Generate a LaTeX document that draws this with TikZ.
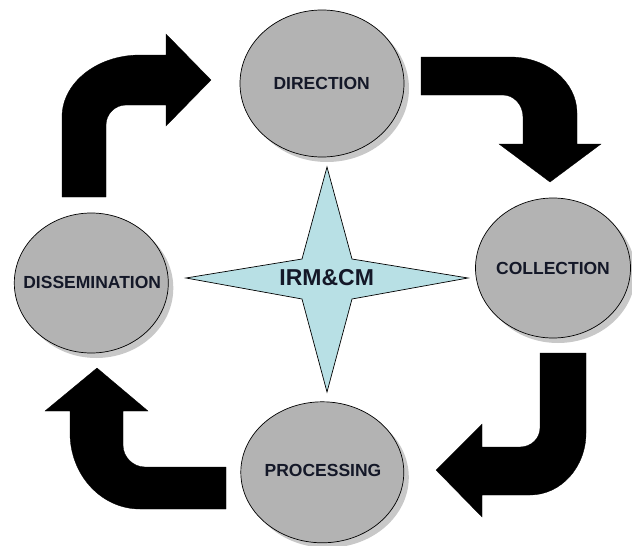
\documentclass[tikz,border=0pt]{standalone}
\usepackage{fontspec}
\setmainfont{Liberation Sans}
\usetikzlibrary{shapes.geometric,shadows}
\definecolor{circfill}{RGB}{179,179,179}
\definecolor{shadowgray}{RGB}{200,200,200}
\definecolor{starfill}{RGB}{184,224,229}
\definecolor{txt}{RGB}{20,24,40}
\tikzset{
  phase/.style={ellipse, draw=black, line width=0.7pt, fill=circfill, inner sep=0pt,
    drop shadow={shadow xshift=5pt, shadow yshift=-5pt, fill=shadowgray, opacity=1}},
  phaselabel/.style={font=\bfseries\fontsize{17.5}{20}\selectfont, text=txt},
  bigarrow/.style={fill=black, draw=black, line width=0.3pt, line join=miter},
  starshape/.style={fill=starfill, draw=black, line width=0.7pt, line join=miter}
}
\begin{document}
\begin{tikzpicture}[x=1pt,y=-1pt]
\useasboundingbox (0,0) rectangle (632,546);
% phases
\node[phase, minimum width=164pt, minimum height=147pt] (dir) at (322,83.5) {};
\node[phase, minimum width=155pt, minimum height=140pt] (col) at (553,268) {};
\node[phase, minimum width=154pt, minimum height=140pt] (dis) at (91.3,283) {};
\node[phase, minimum width=163pt, minimum height=141pt] (pro) at (322.3,472.3) {};
\node[phaselabel] (dirt) at (321.7,83) {DIRECTION};
\node[phaselabel] (colt) at (553,268) {COLLECTION};
\node[phaselabel] (dist) at (92.2,282.7) {DISSEMINATION};
\node[phaselabel] (prot) at (323,470) {PROCESSING};
% central star
\draw[starshape] (186,278) -- (302,259) -- (327,167) -- (352,259) -- (468,278)
  -- (352,299) -- (327,392) -- (302,299) -- cycle;
\node[font=\bfseries\fontsize{23}{26}\selectfont, text=txt] (irm) at (326.7,278) {IRM\&CM};
% arrow dissemination -> direction
\fill[bigarrow] (62,197) -- (62,117) .. controls (62,82.8) and (96.9,55) .. (140,55)
  -- (166,55) -- (166,34) -- (211,80) -- (166,126) -- (166,105) -- (126,105)
  .. controls (115,105) and (106,114) .. (106,125) -- (106,197) -- cycle;
% arrow direction -> collection
\fill[bigarrow] (421,57) -- (510,57) .. controls (547,57) and (577,82) .. (577,113)
  -- (577,144) -- (601,144) -- (550,182) -- (499,144) -- (523,144) -- (523,117)
  .. controls (523,105) and (514,95) .. (503,95) -- (421,95) -- cycle;
% arrow collection -> processing
\fill[bigarrow] (540,353) -- (586,353) -- (586,433) .. controls (586,467.2) and (561,495) .. (530,495)
  -- (482,495) -- (482,517) -- (436,470) -- (482,424) -- (482,447) -- (520,447)
  .. controls (531,447) and (540,438.5) .. (540,428) -- cycle;
% arrow processing -> dissemination
\fill[bigarrow] (226,467) -- (226,509) -- (140,509) .. controls (101.3,509) and (70,475) .. (70,433)
  -- (70,411) -- (45,411) -- (97,368) -- (148,411) -- (123,411) -- (123,445)
  .. controls (123,457) and (133,467) .. (145,467) -- cycle;
\end{tikzpicture}
\end{document}
